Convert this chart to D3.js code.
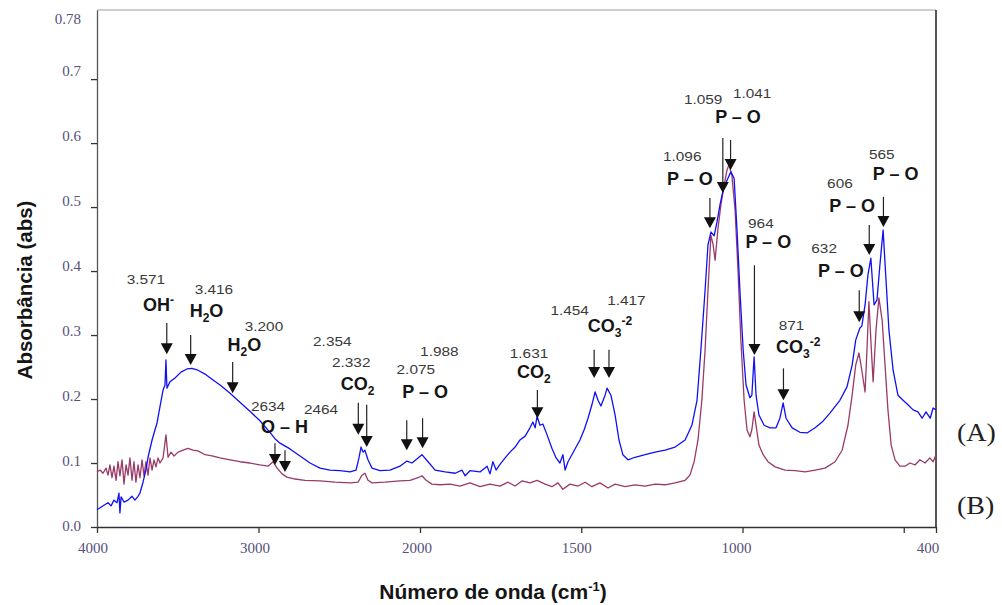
<!DOCTYPE html>
<html>
<head>
<meta charset="utf-8">
<script src="https://cdn.jsdelivr.net/npm/d3@7"></script>
<style>
  body { margin: 0; background: #fff; }
  svg { display: block; }
  .ylab, .xlab { font-family: "Liberation Serif", "Times New Roman", serif; font-size: 15px; fill: #56507a; }
  .num { font-family: "Liberation Sans", Arial, sans-serif; font-size: 13.5px; fill: #3a3a3a; }
  .grp { font-family: "Liberation Sans", Arial, sans-serif; font-size: 18px; font-weight: bold; fill: #151515; }
  .title { font-family: "Liberation Sans", Arial, sans-serif; font-weight: bold; fill: #151515; }
  .legend { font-family: "Liberation Serif", "Times New Roman", serif; font-size: 25px; fill: #222; }
</style>
</head>
<body>
<svg class="chart" width="1002" height="605"></svg>
<script>
// spectrum (A) - blue
const waveA = [4000,3981,3957,3932,3913,3895,3876,3864,3858,3851,3833,3808,3783,3765,3746,3734,3715,3697,3684,3659,
  3628,3610,3591,3579,3573,3567,3548,3517,3480,3443,3412,3375,3331,3288,3238,3176,3115,3053,2991,2929,
  2898,2867,2805,2743,2681,2619,2557,2495,2433,2396,2378,2365,2353,2341,2322,2297,2248,2186,2124,2081,
  2050,2012,1994,1975,1953,1922,1891,1870,1860,1845,1814,1792,1783,1774,1764,1752,1736,1721,1705,1690,
  1674,1659,1650,1643,1637,1628,1619,1606,1591,1578,1566,1557,1550,1541,1529,1516,1504,1491,1479,1467,
  1457,1448,1439,1426,1420,1408,1395,1383,1371,1355,1333,1302,1271,1240,1209,1178,1157,1141,1129,1116,
  1107,1098,1088,1079,1070,1060,1048,1036,1026,1017,1008,998,989,977,971,964,958,949,933,915,
  896,884,874,865,846,822,800,775,753,729,698,676,660,649,636,630,620,611,602,592,
  583,574,564,555,546,533,518,502,487,471,456,443,431,418,409,400];
const absA = [0.027,0.030,0.034,0.038,0.033,0.042,0.038,0.053,0.022,0.047,0.039,0.042,0.048,0.042,0.048,0.053,0.070,0.089,0.109,0.136,
  0.163,0.188,0.214,0.222,0.261,0.217,0.227,0.233,0.242,0.247,0.248,0.245,0.239,0.231,0.222,0.209,0.195,0.181,0.166,0.148,
  0.138,0.131,0.122,0.111,0.100,0.092,0.089,0.088,0.086,0.089,0.108,0.125,0.117,0.120,0.105,0.092,0.088,0.089,0.095,0.103,
  0.100,0.108,0.113,0.102,0.089,0.086,0.084,0.089,0.080,0.088,0.086,0.095,0.083,0.102,0.089,0.098,0.108,0.117,0.125,0.136,
  0.142,0.155,0.164,0.155,0.173,0.159,0.161,0.144,0.123,0.108,0.100,0.113,0.089,0.102,0.113,0.125,0.136,0.152,0.170,0.191,
  0.211,0.198,0.189,0.206,0.217,0.206,0.175,0.136,0.113,0.105,0.109,0.113,0.117,0.120,0.125,0.136,0.159,0.198,0.277,0.370,
  0.441,0.461,0.455,0.477,0.503,0.527,0.542,0.555,0.545,0.464,0.370,0.277,0.222,0.202,0.206,0.266,0.206,0.175,0.159,0.155,
  0.155,0.170,0.194,0.170,0.155,0.148,0.147,0.155,0.164,0.178,0.198,0.219,0.253,0.292,0.311,0.314,0.347,0.394,0.420,0.347,
  0.355,0.409,0.464,0.386,0.308,0.245,0.206,0.198,0.191,0.183,0.180,0.170,0.180,0.170,0.186,0.183];

// spectrum (B) - maroon
const waveB = [4000,3981,3963,3944,3932,3920,3907,3895,3882,3870,3858,3845,3833,3820,3808,3796,3783,3771,3759,3746,
  3734,3721,3709,3697,3684,3672,3659,3647,3635,3622,3610,3591,3573,3560,3542,3523,3498,3467,3437,3406,
  3375,3331,3288,3238,3176,3115,3053,2991,2941,2910,2885,2854,2824,2774,2712,2619,2526,2433,2384,2359,
  2341,2322,2297,2217,2124,2062,2012,1994,1981,1963,1938,1907,1876,1845,1814,1783,1752,1727,1705,1684,
  1659,1637,1612,1591,1572,1557,1535,1510,1488,1467,1442,1417,1395,1364,1333,1302,1271,1240,1209,1178,
  1163,1150,1138,1126,1116,1107,1098,1091,1085,1076,1067,1057,1048,1042,1033,1023,1014,1005,995,986,
  977,971,964,958,949,936,921,899,868,837,806,775,744,713,691,673,660,649,639,630,
  620,614,608,602,595,586,577,567,558,549,539,527,512,496,481,465,450,434,419,409,400];
const absB = [0.086,0.089,0.084,0.092,0.081,0.097,0.077,0.095,0.073,0.102,0.080,0.105,0.067,0.097,0.081,0.108,0.073,0.102,0.070,0.097,
  0.077,0.105,0.080,0.102,0.081,0.108,0.089,0.105,0.094,0.108,0.100,0.108,0.144,0.109,0.117,0.111,0.117,0.120,0.123,0.120,
  0.119,0.113,0.111,0.108,0.105,0.102,0.100,0.097,0.095,0.102,0.092,0.083,0.078,0.075,0.073,0.072,0.070,0.069,0.070,0.081,
  0.084,0.073,0.069,0.070,0.072,0.073,0.077,0.080,0.073,0.067,0.066,0.067,0.064,0.069,0.063,0.067,0.064,0.070,0.064,0.072,
  0.069,0.073,0.067,0.063,0.069,0.059,0.067,0.064,0.070,0.063,0.069,0.061,0.067,0.063,0.066,0.064,0.067,0.066,0.069,0.073,
  0.081,0.102,0.136,0.198,0.277,0.370,0.456,0.441,0.417,0.467,0.503,0.534,0.558,0.566,0.550,0.495,0.402,0.292,0.198,0.152,
  0.141,0.152,0.180,0.159,0.128,0.113,0.102,0.094,0.089,0.088,0.086,0.089,0.092,0.102,0.120,0.159,0.206,0.253,0.272,0.245,
  0.211,0.277,0.352,0.292,0.227,0.308,0.358,0.323,0.253,0.183,0.128,0.105,0.095,0.095,0.100,0.097,0.105,0.100,0.108,0.102,0.113];

const seriesNames = ["(A)", "(B)"];
const seriesColors = ["#1010f5", "#9a3a66"];
const legendAbs = [0.148, 0.034];

// axes
const yTicks = [0, 0.1, 0.2, 0.3, 0.4, 0.5, 0.6, 0.7];
const yLabels = ["0.0", "0.1", "0.2", "0.3", "0.4", "0.5", "0.6", "0.7", "0.78"];
const yLabelValues = [0, 0.1, 0.2, 0.3, 0.4, 0.5, 0.6, 0.7, 0.78];
const xTicks = [4000, 3000, 2000, 1500, 1000, 500, 400];
const xLabels = [4000, 3000, 2000, 1500, 1000, 400];

// peak arrows: wavenumber, top and tip absorbance
const arrows = [
  [3568, 0.319, 0.270], [3420, 0.300, 0.253], [3160, 0.258, 0.209], [2898, 0.131, 0.097], [2836, 0.120, 0.086],
  [2382, 0.194, 0.144], [2330, 0.191, 0.125], [2082, 0.167, 0.120], [1992, 0.170, 0.123], [1636, 0.214, 0.170],
  [1460, 0.277, 0.233], [1414, 0.277, 0.233], [1101, 0.514, 0.467], [1061, 0.608, 0.522], [1037, 0.605, 0.558],
  [963, 0.409, 0.269], [873, 0.248, 0.198], [638, 0.370, 0.320], [607, 0.472, 0.425], [563, 0.516, 0.469]
];
// peak numbers: text, wavenumber, absorbance (text centre)
const peakNums = [
  ["3.571", 3697, 0.3875], ["3.416", 3276, 0.371], ["3.200", 2966, 0.314], ["2634", 2941, 0.189], ["2464", 2613, 0.184],
  ["2.354", 2543, 0.291], ["2.332", 2426, 0.257], ["2.075", 2026, 0.246], ["1.988", 1940, 0.275], ["1.631", 1662, 0.272],
  ["1.454", 1536, 0.339], ["1.417", 1360, 0.355], ["1.096", 1187, 0.579], ["1.059", 1122, 0.669], ["1.041", 970, 0.678],
  ["964", 943, 0.475], ["871", 848, 0.316], ["632", 747, 0.435], ["606", 698, 0.537], ["565", 568, 0.583]
];
// group labels: parts [text, shift], wavenumber, absorbance
const groups = [
  [[["OH", 0], ["-", -1]], 3619, 0.3375],
  [[["H", 0], ["2", 1], ["O", 0]], 3322, 0.328],
  [[["H", 0], ["2", 1], ["O", 0]], 3087, 0.275],
  [[["O – H", 0]], 2839, 0.147],
  [[["CO", 0], ["2", 1]], 2387, 0.214],
  [[["P – O", 0]], 1984, 0.202],
  [[["CO", 0], ["2", 1]], 1647, 0.233],
  [[["CO", 0], ["3", 1], ["-2", -1]], 1411, 0.305],
  [[["P – O", 0]], 1163, 0.534],
  [[["P – O", 0]], 1014, 0.631],
  [[["P – O", 0]], 920, 0.436],
  [[["CO", 0], ["3", 1], ["-2", -1]], 827, 0.272],
  [[["P – O", 0]], 695, 0.391],
  [[["P – O", 0]], 660, 0.492],
  [[["P – O", 0]], 525, 0.542]
];

const svg = d3.select("svg.chart");
const plotLeft = 97, plotRight = 936, plotTop = 10, plotBottom = 527;

const x = d3.scaleLinear().domain([4000, 2000, 400]).range([plotLeft, 420, plotRight]);
const y = d3.scaleLinear().domain([0, 0.808]).range([plotBottom, plotTop]);
// tick labels in the source sit on a slightly different grid than the ticks
const xLab = d3.scaleLinear().domain([4000, 2000, 400]).range([93, 417, 928]);
const yLab = d3.scaleLinear().domain([0, 0.78]).range([526, 18.7]);

// frame
svg.append("line").attr("x1", plotLeft).attr("x2", plotRight).attr("y1", plotTop).attr("y2", plotTop)
  .attr("stroke", "#a0a0a0").attr("stroke-width", 1.2);
svg.append("line").attr("x1", plotRight).attr("x2", plotRight).attr("y1", plotTop).attr("y2", plotBottom)
  .attr("stroke", "#111").attr("stroke-width", 1.4);

const yAxis = svg.append("g")
  .attr("transform", "translate(" + plotLeft + ",0)")
  .call(d3.axisLeft(y).tickValues(yTicks).tickSize(6).tickSizeOuter(0).tickFormat(""));
yAxis.select(".domain").attr("stroke", "#555").attr("stroke-width", 1.3);
yAxis.selectAll(".tick line").attr("stroke", "#333").attr("stroke-width", 1.3);

const xAxis = svg.append("g")
  .attr("transform", "translate(0," + plotBottom + ")")
  .call(d3.axisBottom(x).tickValues(xTicks).tickSize(6).tickSizeOuter(0).tickFormat(""));
xAxis.select(".domain").attr("stroke", "#333").attr("stroke-width", 1.3);
xAxis.selectAll(".tick line").attr("stroke", "#333").attr("stroke-width", 1.3);

svg.append("g").selectAll("text")
  .data(yLabelValues)
  .enter().append("text")
  .attr("class", "ylab")
  .attr("x", 81)
  .attr("y", d => yLab(d))
  .attr("dy", "0.35em")
  .attr("text-anchor", "end")
  .text((d, i) => yLabels[i]);

svg.append("g").selectAll("text")
  .data(xLabels)
  .enter().append("text")
  .attr("class", "xlab")
  .attr("x", d => xLab(d))
  .attr("y", 548)
  .attr("dy", "0.35em")
  .attr("text-anchor", "middle")
  .text(d => d);

// spectra
const specs = [
  waveB.map((w, i) => ({ w: w, a: absB[i] })),
  waveA.map((w, i) => ({ w: w, a: absA[i] }))
];
const line = d3.line().x(d => x(d.w)).y(d => y(d.a));
svg.append("path").datum(specs[0])
  .attr("fill", "none").attr("stroke", seriesColors[1]).attr("stroke-width", 1.3)
  .attr("stroke-linejoin", "round").attr("d", line);
svg.append("path").datum(specs[1])
  .attr("fill", "none").attr("stroke", seriesColors[0]).attr("stroke-width", 1.3)
  .attr("stroke-linejoin", "round").attr("d", line);

// arrows
const arr = svg.append("g");
arrows.forEach(a => {
  const ax = x(a[0]), y0 = y(a[1]), y1 = y(a[2]);
  arr.append("line").attr("x1", ax).attr("x2", ax).attr("y1", y0).attr("y2", y1 - 9)
    .attr("stroke", "#222").attr("stroke-width", 1.2);
  arr.append("path")
    .attr("d", "M" + (ax - 6) + "," + (y1 - 11) + "L" + (ax + 6) + "," + (y1 - 11) + "L" + ax + "," + y1 + "Z")
    .attr("fill", "#111");
});

// peak numbers
svg.append("g").selectAll("text")
  .data(peakNums)
  .enter().append("text")
  .attr("class", "num")
  .attr("text-anchor", "middle")
  .attr("dy", "0.35em")
  .attr("transform", d => "translate(" + x(d[1]) + "," + y(d[2]) + ") scale(1.14,1)")
  .text(d => d[0]);

// group labels
groups.forEach(g => {
  const t = svg.append("text")
    .attr("class", "grp")
    .attr("text-anchor", "middle")
    .attr("x", x(g[1]))
    .attr("y", y(g[2]))
    .attr("dy", "0.35em");
  let shift = 0;
  g[0].forEach(p => {
    const target = p[1] === 1 ? 5 : (p[1] === -1 ? -7 : 0);
    t.append("tspan")
      .attr("dy", target - shift)
      .style("font-size", p[1] === 0 ? null : "12px")
      .text(p[0]);
    shift = target;
  });
});

// legend labels
svg.append("g").selectAll("text")
  .data(seriesNames)
  .enter().append("text")
  .attr("class", "legend")
  .attr("transform", (d, i) => "translate(957," + y(legendAbs[i]) + ") scale(1.12,1)")
  .attr("dy", "0.35em")
  .text(d => d);

// axis titles
const xTitle = svg.append("text")
  .attr("class", "title")
  .attr("x", 493).attr("y", 599)
  .attr("text-anchor", "middle")
  .style("font-size", "21px");
xTitle.append("tspan").text("Número de onda (cm");
xTitle.append("tspan").attr("dy", -8).style("font-size", "13px").text("-1");
xTitle.append("tspan").attr("dy", 8).text(")");

svg.append("text")
  .attr("class", "title")
  .attr("transform", "translate(32,290) rotate(-90)")
  .attr("text-anchor", "middle")
  .style("font-size", "20.5px")
  .text("Absorbância (abs)");
</script>
</body>
</html>
